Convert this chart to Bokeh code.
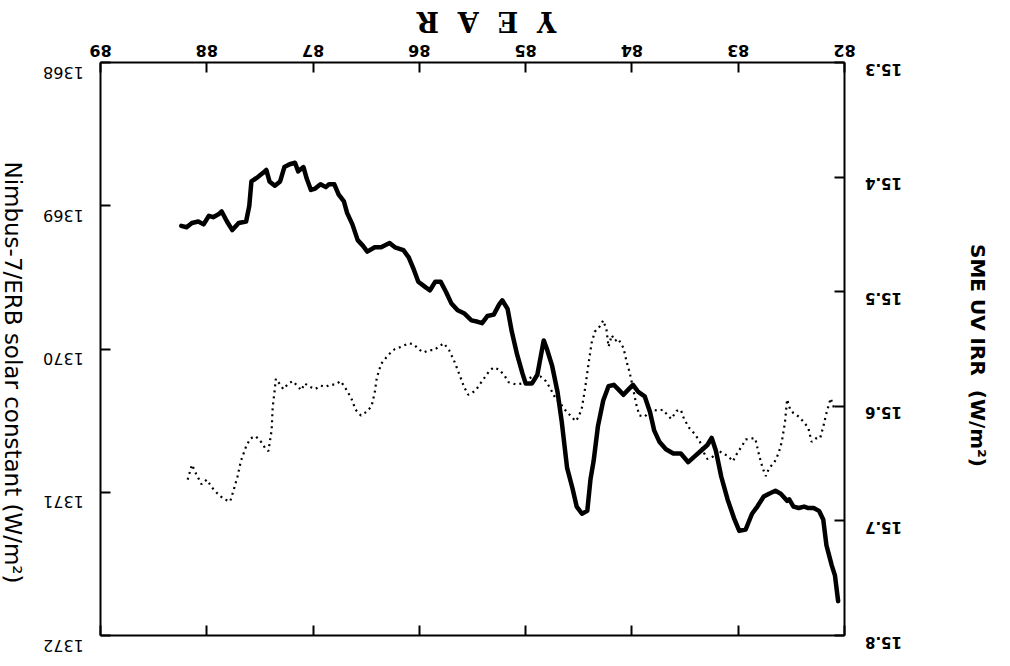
import math
from bokeh.plotting import figure
from bokeh.models import (Range1d, LinearAxis, FixedTicker, CustomJSTickFormatter,
                          Label, LabelSet, ColumnDataSource)
from bokeh.core.properties import value
from bokeh.embed import file_html
from bokeh.resources import INLINE

# ---- data ----
year_ticks = [82, 83, 84, 85, 86, 87, 88, 89]
left_ticks = [1368, 1369, 1370, 1371, 1372]
right_ticks = [15.3, 15.4, 15.5, 15.6, 15.7, 15.8]
year_labels = ["82", "83", "84", "85", "86", "87", "88", "89"]
left_labels = ["1368", "1369", "1370", "1371", "1372"]
right_labels = ["15.3", "15.4", "15.5", "15.6", "15.7", "15.8"]

nimbus_years = [88.24, 88.19, 88.14, 88.08, 88.03, 87.98, 87.94, 87.89, 87.86, 87.81,
                87.76, 87.70, 87.63, 87.60, 87.58, 87.52, 87.47, 87.44, 87.41, 87.36,
                87.31, 87.27, 87.22, 87.17, 87.14, 87.09, 87.06, 87.02, 86.98, 86.93,
                86.88, 86.85, 86.80, 86.76, 86.71, 86.68, 86.63, 86.58, 86.53, 86.49,
                86.42, 86.36, 86.28, 86.23, 86.15, 86.10, 86.05, 86.01, 85.94, 85.90,
                85.85, 85.80, 85.75, 85.70, 85.64, 85.58, 85.51, 85.45,
                85.41, 85.36, 85.30, 85.25, 85.22, 85.17, 85.13, 85.08, 85.03, 85.00,
                84.94, 84.89, 84.86, 84.83, 84.80, 84.75, 84.70, 84.66, 84.61, 84.56,
                84.52, 84.47, 84.42, 84.39, 84.36, 84.32, 84.27, 84.22, 84.17, 84.13,
                84.08, 84.03, 83.99, 83.94, 83.88, 83.83, 83.79, 83.74, 83.68, 83.61,
                83.54, 83.47, 83.41, 83.35, 83.29, 83.25, 83.21, 83.16, 83.10, 83.04,
                82.99, 82.93, 82.87, 82.82, 82.76, 82.71, 82.65, 82.60, 82.54, 82.52,
                82.48, 82.43, 82.38, 82.34, 82.29, 82.24, 82.20, 82.17, 82.12, 82.09,
                82.06]
nimbus_vals = [1369.14, 1369.15, 1369.12, 1369.11, 1369.13, 1369.07, 1369.08, 1369.06, 1369.04, 1369.11,
               1369.17, 1369.12, 1369.11, 1369.00, 1368.83, 1368.80, 1368.77, 1368.75, 1368.83, 1368.86,
               1368.83, 1368.73, 1368.71, 1368.70, 1368.76, 1368.73, 1368.81, 1368.89, 1368.88, 1368.85,
               1368.87, 1368.85, 1368.85, 1368.92, 1368.97, 1369.05, 1369.13, 1369.24, 1369.28, 1369.32,
               1369.29, 1369.29, 1369.26, 1369.29, 1369.31, 1369.36, 1369.45, 1369.53, 1369.57, 1369.59,
               1369.53, 1369.53, 1369.60, 1369.68, 1369.73, 1369.75, 1369.80, 1369.81,
               1369.82, 1369.77, 1369.76, 1369.69, 1369.66, 1369.72, 1369.88, 1370.04, 1370.17, 1370.24,
               1370.24, 1370.18, 1370.06, 1369.94, 1370.00, 1370.12, 1370.30, 1370.51, 1370.83, 1370.97,
               1371.10, 1371.15, 1371.13, 1370.91, 1370.78, 1370.54, 1370.36, 1370.26, 1370.25, 1370.28,
               1370.32, 1370.28, 1370.25, 1370.30, 1370.33, 1370.44, 1370.57, 1370.65, 1370.70, 1370.73,
               1370.73, 1370.79, 1370.75, 1370.71, 1370.67, 1370.62, 1370.71, 1370.89, 1371.05, 1371.18,
               1371.27, 1371.26, 1371.15, 1371.10, 1371.03, 1371.01, 1370.99, 1371.01, 1371.06, 1371.05,
               1371.10, 1371.11, 1371.10, 1371.11, 1371.11, 1371.13, 1371.19, 1371.37, 1371.51, 1371.58,
               1371.76]

sme_years = [88.18, 88.14, 88.10, 88.05, 88.00, 87.95, 87.90, 87.84, 87.78, 87.75,
             87.71, 87.68, 87.63, 87.59, 87.54, 87.49, 87.44, 87.42, 87.39, 87.38,
             87.36, 87.35, 87.31, 87.28, 87.23, 87.19, 87.14, 87.11, 87.08, 87.03,
             86.98, 86.93, 86.88, 86.84, 86.79, 86.74, 86.69, 86.64, 86.60, 86.55,
             86.50, 86.45, 86.42, 86.40, 86.36, 86.29, 86.23, 86.17, 86.10, 86.05,
             86.01, 85.96, 85.91, 85.86, 85.82, 85.77, 85.72, 85.67, 85.62, 85.58,
             85.54, 85.50,
             85.47, 85.41, 85.34, 85.30, 85.25, 85.20, 85.16, 85.09, 85.03, 84.97,
             84.92, 84.89, 84.86, 84.81, 84.77, 84.72, 84.67, 84.63, 84.58, 84.53,
             84.50, 84.47, 84.44, 84.41, 84.38, 84.35, 84.30, 84.27, 84.24, 84.22,
             84.19, 84.16, 84.13, 84.08, 84.05, 84.02, 83.99, 83.96, 83.93, 83.88,
             83.85, 83.80, 83.75, 83.71, 83.68, 83.63, 83.58, 83.54, 83.51, 83.46,
             83.41, 83.36, 83.32, 83.29, 83.24, 83.19, 83.15, 83.10, 83.05, 83.01,
             82.96, 82.93, 82.88, 82.84, 82.80, 82.77, 82.74, 82.71, 82.66, 82.62,
             82.59, 82.56, 82.54, 82.51, 82.48, 82.43, 82.38, 82.34, 82.31, 82.27,
             82.23, 82.20, 82.17, 82.13, 82.10]
sme_vals = [15.664, 15.651, 15.659, 15.668, 15.664, 15.671, 15.676, 15.681, 15.683, 15.674,
            15.661, 15.648, 15.635, 15.628, 15.626, 15.631, 15.638, 15.639, 15.621, 15.601,
            15.585, 15.576, 15.581, 15.585, 15.580, 15.578, 15.583, 15.586, 15.580, 15.583,
            15.585, 15.582, 15.583, 15.581, 15.581, 15.578, 15.585, 15.593, 15.603, 15.608,
            15.605, 15.600, 15.588, 15.575, 15.563, 15.555, 15.550, 15.548, 15.545, 15.546,
            15.550, 15.553, 15.551, 15.551, 15.548, 15.545, 15.551, 15.561, 15.573, 15.583,
            15.590, 15.588,
            15.586, 15.578, 15.569, 15.566, 15.568, 15.573, 15.579, 15.581, 15.580, 15.576,
            15.573, 15.575, 15.574, 15.578, 15.584, 15.593, 15.598, 15.603, 15.608, 15.613,
            15.609, 15.601, 15.584, 15.564, 15.545, 15.535, 15.530, 15.525, 15.533, 15.548,
            15.538, 15.543, 15.541, 15.549, 15.561, 15.571, 15.584, 15.598, 15.608, 15.609,
            15.606, 15.603, 15.604, 15.603, 15.606, 15.611, 15.604, 15.603, 15.611, 15.619,
            15.624, 15.631, 15.641, 15.646, 15.644, 15.638, 15.641, 15.643, 15.648, 15.641,
            15.634, 15.629, 15.628, 15.628, 15.644, 15.654, 15.661, 15.654, 15.649, 15.641,
            15.631, 15.614, 15.594, 15.603, 15.606, 15.609, 15.614, 15.619, 15.631, 15.628,
            15.628, 15.618, 15.606, 15.593, 15.601]

GAP = "\u00a0\u00a0"
x_title = GAP.join(["Y", "E", "A", "R"])
left_title = "Nimbus-7/ERB solar constant (W/m\u00b2)"
right_title = "SME UV IRR\u00a0\u00a0(W/m\u00b2)"

# ---- layout (pixels) ----
W, H = 994, 656                 # canvas = frame (axes are fixed inside)
BOX_L, BOX_R, BOX_T, BOX_B = 100, 844, 62, 635

x_hi, x_lo = year_ticks[-1], year_ticks[0]        # 89 at box left, 82 at box right
l_top, l_bot = left_ticks[0], left_ticks[-1]      # 1368 top, 1372 bottom
r_top, r_bot = right_ticks[0], right_ticks[-1]    # 15.3 top, 15.8 bottom
ppx = (BOX_R - BOX_L) / (x_hi - x_lo)
ppl = (BOX_B - BOX_T) / (l_bot - l_top)
ppr = (BOX_B - BOX_T) / (r_bot - r_top)

def X(px):      # canvas x pixel -> year
    return x_hi - (px - BOX_L) / ppx

def YL(py):     # canvas y pixel (from top) -> left-axis value
    return l_top + (py - BOX_T) / ppl

def YR(py):
    return r_top + (py - BOX_T) / ppr

p = figure(width=W, height=H, output_backend="svg", toolbar_location=None,
           x_range=Range1d(X(0), X(W)), y_range=Range1d(YL(H), YL(0)),
           x_axis_location="above",
           min_border_left=0, min_border_right=0, min_border_top=0, min_border_bottom=0)
p.extra_y_ranges = {"sme": Range1d(YR(H), YR(0))}
p.xgrid.visible = False
p.ygrid.visible = False
p.outline_line_color = None
p.background_fill_color = "white"
p.border_fill_color = "white"

blank = CustomJSTickFormatter(code="return ''")

def style_axis(ax, ticks, loc, bounds):
    ax.ticker = FixedTicker(ticks=ticks)
    ax.formatter = blank
    ax.fixed_location = loc
    ax.bounds = bounds
    ax.axis_line_color = "black"
    ax.axis_line_width = 2
    ax.major_tick_line_color = "black"
    ax.major_tick_line_width = 2
    ax.major_tick_in = 10
    ax.major_tick_out = 0
    ax.minor_tick_line_color = None
    ax.major_label_standoff = 0

style_axis(p.xaxis[0], year_ticks, l_top, (x_lo, x_hi))
bottom = LinearAxis()
style_axis(bottom, year_ticks, l_bot, (x_lo, x_hi))
p.add_layout(bottom, "below")
style_axis(p.yaxis[0], left_ticks, x_hi, (l_top, l_bot))
right = LinearAxis(y_range_name="sme")
style_axis(right, right_ticks, x_lo, (r_top, r_bot))
p.add_layout(right, "right")

# ---- tick labels (upside down, as in the reference) ----
top_src = ColumnDataSource(dict(x=year_ticks, y=[YL(BOX_T - 12)] * len(year_ticks), t=year_labels))
p.add_layout(LabelSet(x="x", y="y", text="t", source=top_src, angle=math.pi,
                      text_align="center", text_baseline="middle",
                      text_font=value("DejaVu Sans"), text_font_style="bold",
                      text_font_size="16px", text_color="black"))

left_src = ColumnDataSource(dict(x=[X(BOX_L - 37)] * len(left_ticks),
                                 y=[v + 10 / ppl for v in left_ticks], t=left_labels))
p.add_layout(LabelSet(x="x", y="y", text="t", source=left_src, angle=math.pi,
                      text_align="center", text_baseline="middle",
                      text_font=value("DejaVu Sans"), text_font_size="16px",
                      text_color="black"))

right_src = ColumnDataSource(dict(x=[X(BOX_R + 39)] * len(right_ticks),
                                  y=[v + 7 / ppr for v in right_ticks], t=right_labels))
p.add_layout(LabelSet(x="x", y="y", text="t", source=right_src, angle=math.pi,
                      y_range_name="sme", text_align="center", text_baseline="middle",
                      text_font=value("DejaVu Sans"), text_font_style="bold",
                      text_font_size="15px", text_color="black"))

# ---- axis titles ----
p.add_layout(Label(x=X(486), y=YL(21), text=x_title,
                   angle=math.pi, text_align="center", text_baseline="middle",
                   text_font="DejaVu Serif", text_font_style="bold",
                   text_font_size="27px", text_color="black"))
p.add_layout(Label(x=X(12), y=YL(372), text=left_title,
                   angle=-math.pi / 2, text_align="center", text_baseline="middle",
                   text_font="DejaVu Sans", text_font_size="23px", text_color="black"))
p.add_layout(Label(x=X(977), y=YL(355), text=right_title,
                   angle=-math.pi / 2, text_align="center", text_baseline="middle",
                   text_font="DejaVu Sans", text_font_style="bold",
                   text_font_size="20px", text_color="black"))

# ---- series ----
p.line(nimbus_years, nimbus_vals, line_color="black", line_width=4.5,
       line_join="round", line_cap="round")
p.line(sme_years, sme_vals, y_range_name="sme", line_color="black",
       line_width=2.2, line_dash="2 4")

open("out.html", "w").write(file_html(p, INLINE))
